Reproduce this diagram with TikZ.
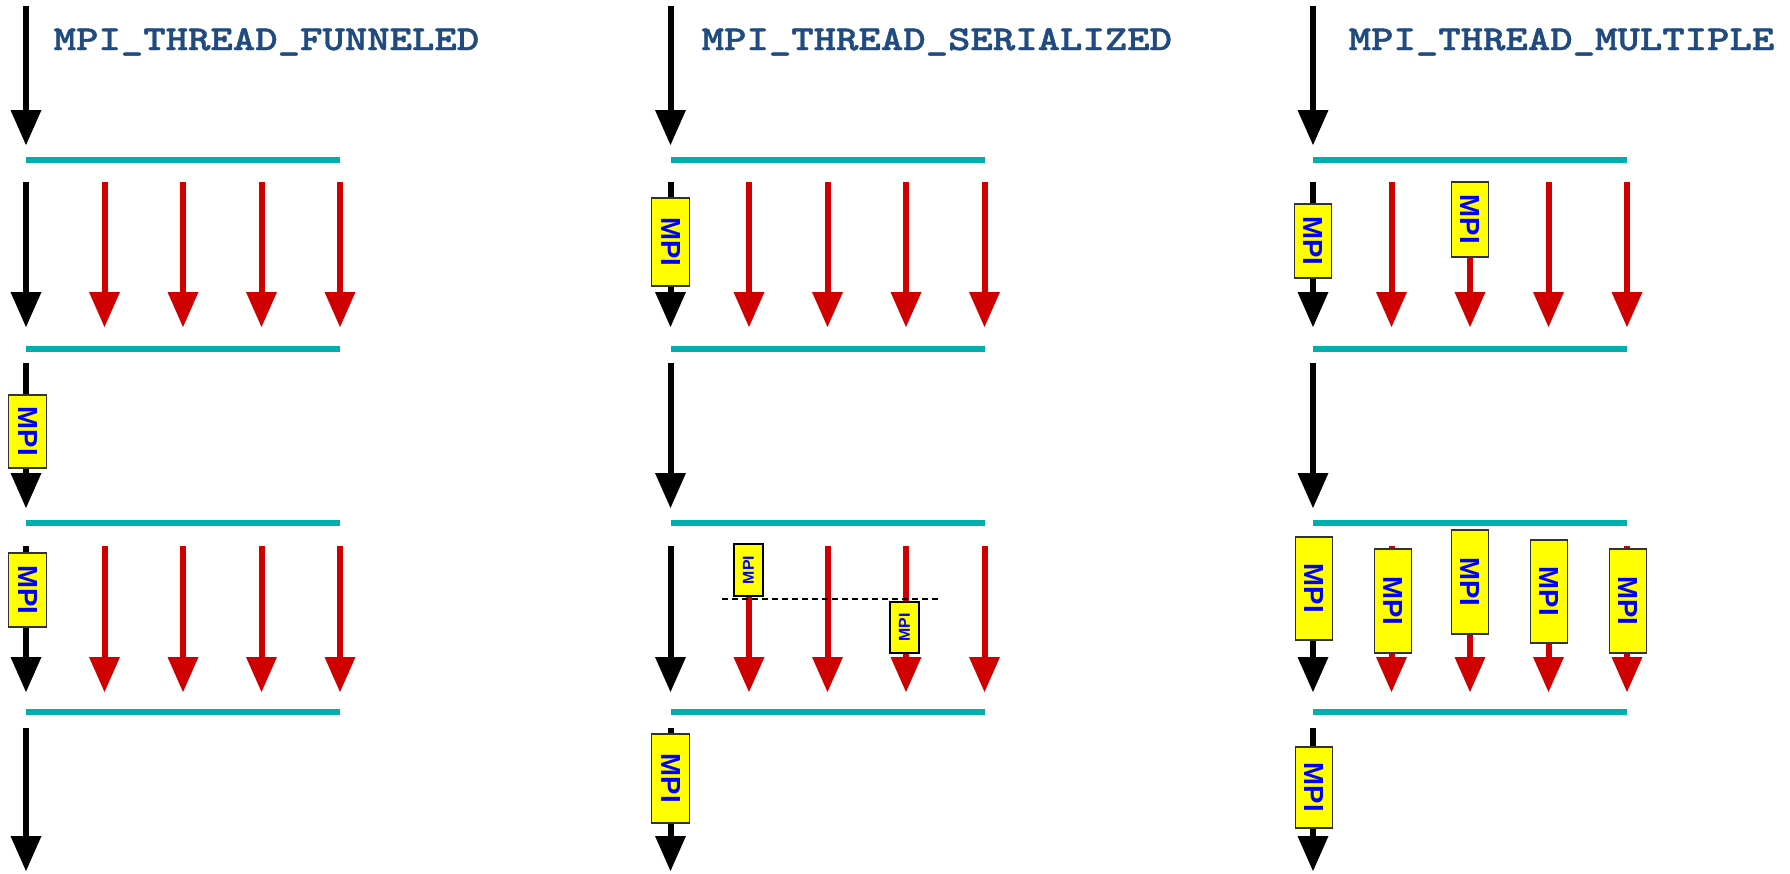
\documentclass[tikz,border=0pt]{standalone}
\usepackage{fontspec}
\setmainfont{Liberation Sans}
\newfontfamily\codefont{lmmonolt10-bold.otf}[FakeStretch=1.22,FakeBold=1.2]
\usetikzlibrary{arrows.meta,positioning}
\definecolor{barcyan}{HTML}{00AEAE}
\definecolor{threadred}{HTML}{D00000}
\definecolor{titleblue}{HTML}{1F4B80}
\definecolor{callblue}{HTML}{0000FF}
\definecolor{callyellow}{HTML}{FFFF00}
\tikzset{
    lead/.style={draw=black,line width=0.6mm,
      -{Triangle[width=3.1mm,length=3.5mm,line width=0pt]}},
    team/.style={lead,draw=threadred,fill=threadred},
    barline/.style={draw=barcyan,line width=0.6mm},
    syncline/.style={draw=black,line width=0.15mm,dash pattern=on 0.6mm off 0.4mm},
    callbase/.style={fill=callyellow,text=callblue,inner sep=0pt},
    mpibox/.style={callbase,draw=black!80,line width=0.14mm,
      rotate=-90,minimum height=3.75mm,
      font=\fontsize{7.85}{8}\selectfont\bfseries},
    mpismall/.style={callbase,draw=black,line width=0.27mm,
      rotate=90,minimum height=2.9mm,
      font=\fontsize{4.5}{5}\selectfont\bfseries},
    title/.style={anchor=base west,text=titleblue,inner sep=0pt,
      font=\codefont\fontsize{9.95}{12}\selectfont}
}
\begin{document}
\begin{tikzpicture}[x=0.1mm,y=-0.1mm]
  \useasboundingbox (0,0) rectangle (1790,873);
  % one column per thread level
  \foreach \c/\x in {fun/26,ser/670.5,mul/1313}{
    \coordinate (\c-in) at (\x,6);
    \coordinate (\c-fork) at (\x,145);
    \draw[lead] (\c-in) -- (\c-fork);
    % barriers
    \foreach \b/\y in {1/160,2/349,3/523,4/712}{
      \coordinate (\c-bar\b-l) at (\x,\y);
      \coordinate (\c-bar\b-r) at (\x+314,\y);
      \draw[barline] (\c-bar\b-l) -- (\c-bar\b-r);
    }
    % parallel regions: master plus four workers
    \foreach \r/\ys/\ye in {par1/182/327,par2/546/692}{
      \foreach \k in {0,...,4}{
        \coordinate (\c-\r-\k-s) at (\x+78.5*\k,\ys);
        \coordinate (\c-\r-\k-e) at (\x+78.5*\k,\ye);
      }
      \draw[lead] (\c-\r-0-s) -- (\c-\r-0-e);
      \foreach \k in {1,...,4} \draw[team] (\c-\r-\k-s) -- (\c-\r-\k-e);
    }
    % serial parts
    \foreach \r/\ys/\ye in {seq/363/508,tail/728/871}{
      \coordinate (\c-\r-s) at (\x,\ys);
      \coordinate (\c-\r-e) at (\x,\ye);
      \draw[lead] (\c-\r-s) -- (\c-\r-e);
    }
  }

  \node[title] (fun-title) at (53,50) {MPI\_THREAD\_FUNNELED};
  \node[title] (ser-title) at (701,50) {MPI\_THREAD\_SERIALIZED};
  \node[title] (mul-title) at (1348,50) {MPI\_THREAD\_MULTIPLE};

  % funneled: only the master calls
  \node[mpibox,minimum width=7.3mm] (fun-call1) at (27.5,431.5) {MPI};
  \node[mpibox,minimum width=7.4mm] (fun-call2) at (27.5,590) {MPI};

  % serialized: one call at a time
  \node[mpibox,minimum width=8.8mm] (ser-call1) at (670.5,242) {MPI};
  \coordinate (ser-sync-l) at (722,599);
  \coordinate (ser-sync-r) at (939,599);
  \draw[syncline] (ser-sync-l) -- (ser-sync-r);
  \node[mpismall,minimum width=5.2mm] (ser-call2) at (748.5,570) {MPI};
  \node[mpismall,minimum width=5.1mm] (ser-call3) at (904.5,627.5) {MPI};
  \node[mpibox,minimum width=8.9mm] (ser-call4) at (670.5,778.5) {MPI};

  % multiple: any thread, any time
  \node[mpibox,minimum width=7.4mm] (mul-call1) at (1313,241) {MPI};
  \node[mpibox,minimum width=7.5mm] (mul-call2) at (1470,219.5) {MPI};
  \node[mpibox,minimum width=10.3mm] (mul-call3) at (1314,588.5) {MPI};
  \node[mpibox,minimum width=10.4mm] (mul-call4) at (1393,601) {MPI};
  \node[mpibox,minimum width=10.4mm] (mul-call5) at (1470,582) {MPI};
  \node[mpibox,minimum width=10.3mm] (mul-call6) at (1549,591.5) {MPI};
  \node[mpibox,minimum width=10.4mm] (mul-call7) at (1628,601) {MPI};
  \node[mpibox,minimum width=8.1mm] (mul-call8) at (1314,787.5) {MPI};
\end{tikzpicture}
\end{document}
